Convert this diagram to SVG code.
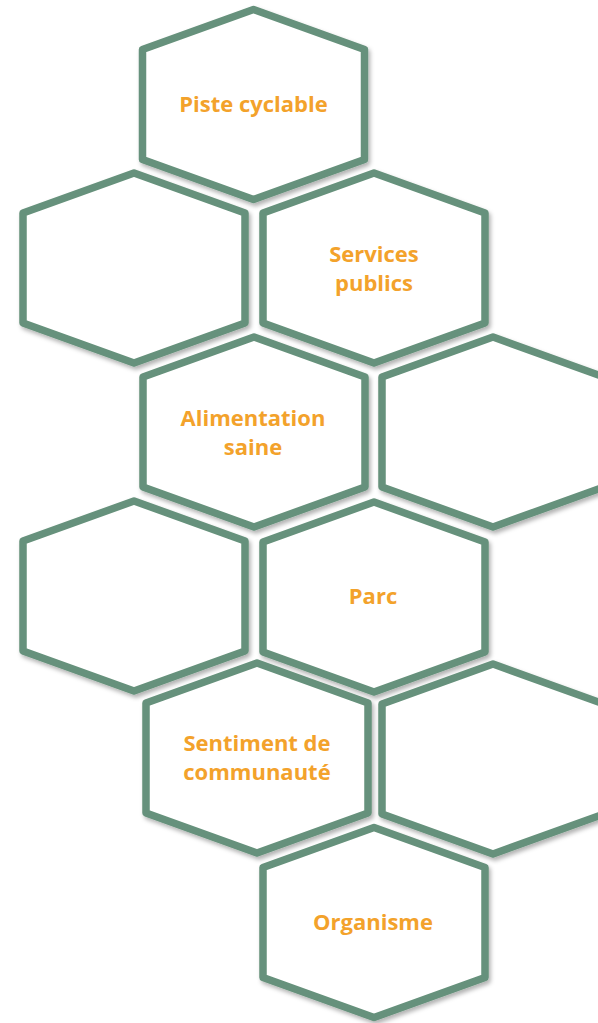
<svg xmlns="http://www.w3.org/2000/svg" width="598" height="1023" viewBox="0 0 598 1023">
<style>
.hex{fill:#ffffff;stroke:#66917B;stroke-width:7.5;stroke-linejoin:round;filter:url(#sh)}
.lbl{font-family:"Open Sans","Liberation Sans",sans-serif;font-weight:bold;font-size:22px;fill:#F3A22B;text-anchor:middle}
</style>
<defs>
<filter id="sh" x="-10%" y="-10%" width="125%" height="125%">
<feDropShadow dx="2" dy="3" stdDeviation="2" flood-color="#000" flood-opacity="0.3"/>
</filter>
<path id="hx" d="M0,-95 L111,-55 L111,55 L0,95 L-111,55 L-111,-55 Z"/>
</defs>
<rect width="598" height="1023" fill="#ffffff"/>
<g id="connectors"></g>
<g id="n1"><use href="#hx" class="hex" x="253.5" y="104.5"/><text class="lbl" x="253.5" y="112">Piste cyclable</text></g>
<g id="n2"><use href="#hx" class="hex" x="134" y="268"/></g>
<g id="n3"><use href="#hx" class="hex" x="374" y="268"/><text class="lbl" x="374" y="262">Services</text><text class="lbl" x="374" y="291">publics</text></g>
<g id="n4"><use href="#hx" class="hex" x="254" y="432"/><text class="lbl" x="253" y="426">Alimentation</text><text class="lbl" x="253" y="455">saine</text></g>
<g id="n5"><use href="#hx" class="hex" x="493" y="432"/></g>
<g id="n6"><use href="#hx" class="hex" x="134" y="596"/></g>
<g id="n7"><use href="#hx" class="hex" x="374" y="597"/><text class="lbl" x="373" y="604">Parc</text></g>
<g id="n8"><use href="#hx" class="hex" x="257" y="758"/><text class="lbl" x="257" y="751">Sentiment de</text><text class="lbl" x="257" y="780">communauté</text></g>
<g id="n9"><use href="#hx" class="hex" x="493" y="759"/></g>
<g id="n10"><use href="#hx" class="hex" x="374" y="922.5"/><text class="lbl" x="373" y="930">Organisme</text></g>
</svg>
